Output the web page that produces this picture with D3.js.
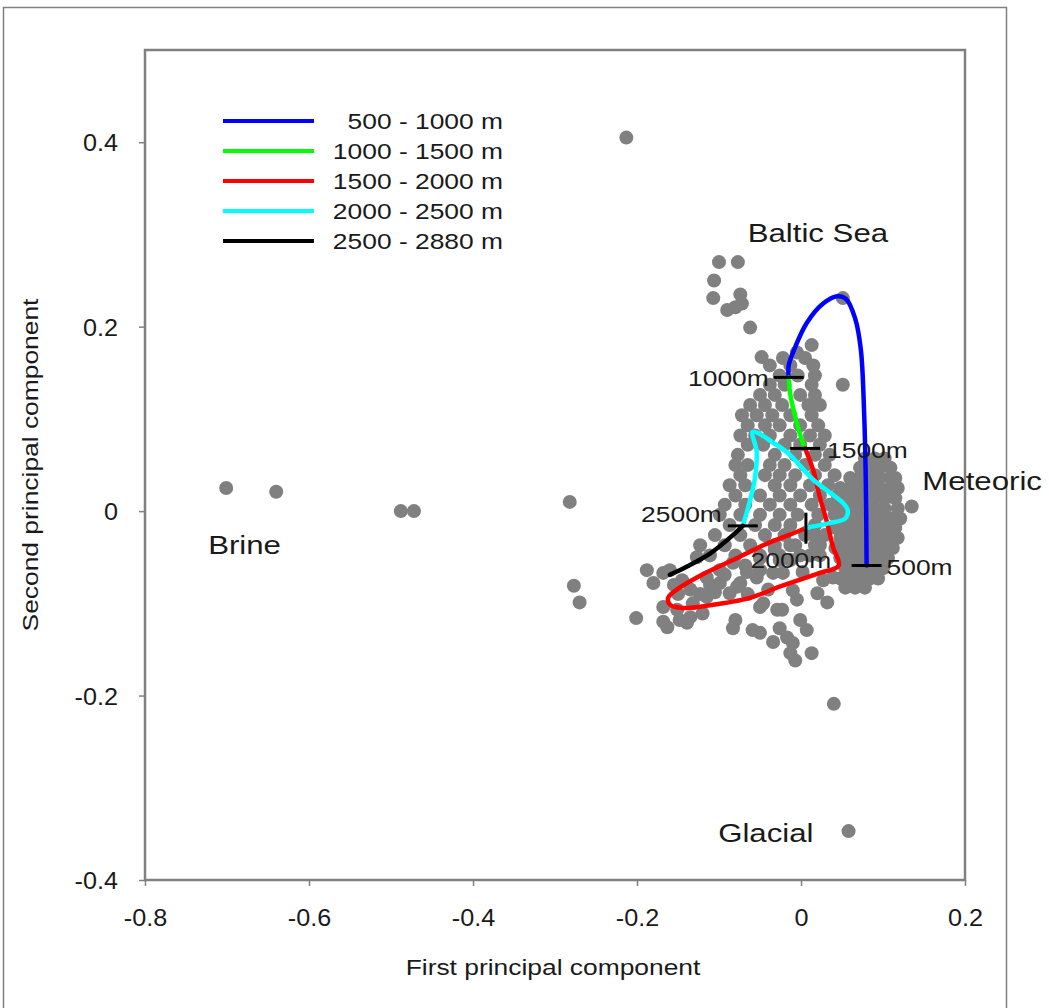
<!DOCTYPE html>
<html>
<head>
<meta charset="utf-8">
<script src="https://cdn.jsdelivr.net/npm/d3@7"></script>
<style>
  body { margin: 0; background: #fff; }
  svg { display: block; font-family: "Liberation Sans", Arial, sans-serif; }
  text { fill: #1a1a1a; }
</style>
</head>
<body>
<svg width="1049" height="1008"></svg>
<script>
// tick values and their labels
const xTicks = [-0.8, -0.6, -0.4, -0.2, 0, 0.2];
const xTickLabels = ["-0.8", "-0.6", "-0.4", "-0.2", "0", "0.2"];
const yTicks = [-0.4, -0.2, 0, 0.2, 0.4];
const yTickLabels = ["-0.4", "-0.2", "0", "0.2", "0.4"];

// water samples (first pc, second pc)
const samples = [
  // outliers
  [-0.213, 0.405], [-0.701, 0.025], [-0.640, 0.021], [-0.488, 0.000], [-0.472, 0.000],
  [-0.282, 0.010], [-0.277, -0.081], [-0.270, -0.099], [-0.201, -0.116], [0.040, -0.209],
  [0.058, -0.347], [0.135, 0.005],
  // upper group
  [-0.100, 0.270], [-0.077, 0.270], [-0.106, 0.250], [-0.107, 0.231], [-0.074, 0.235],
  [-0.072, 0.225], [-0.080, 0.221], [-0.090, 0.218], [-0.062, 0.199], [-0.048, 0.167],
  [0.051, 0.231],
  // main column
  [0.013, 0.180], [-0.005, 0.172], [-0.022, 0.166], [0.005, 0.166],
  [-0.038, 0.158], [-0.013, 0.158], [0.015, 0.158],
  [-0.026, 0.147], [-0.004, 0.147], [0.017, 0.147],
  [-0.038, 0.137], [-0.020, 0.137], [0.013, 0.137], [0.051, 0.137],
  [-0.050, 0.126], [-0.032, 0.126], [-0.001, 0.126], [0.017, 0.126],
  [-0.062, 0.115], [-0.044, 0.115], [-0.023, 0.115], [0.009, 0.115], [0.023, 0.115],
  [-0.072, 0.104], [-0.054, 0.104], [-0.035, 0.104], [-0.013, 0.104], [0.013, 0.104],
  [-0.065, 0.093], [-0.044, 0.093], [-0.026, 0.093], [-0.001, 0.093], [0.021, 0.093],
  [-0.074, 0.082], [-0.056, 0.082], [-0.038, 0.082], [-0.013, 0.082], [0.011, 0.082], [0.029, 0.082],
  [-0.065, 0.072], [-0.046, 0.072], [-0.020, 0.072], [-0.001, 0.072], [0.023, 0.072],
  [-0.077, 0.061], [-0.032, 0.061], [-0.007, 0.061], [0.017, 0.061], [0.035, 0.061],
  [-0.080, 0.050], [-0.065, 0.050], [-0.038, 0.050], [-0.020, 0.050], [0.005, 0.050], [0.029, 0.050],
  [-0.074, 0.039], [-0.044, 0.039], [-0.026, 0.039], [-0.007, 0.039], [0.017, 0.039], [0.041, 0.039],
  [-0.087, 0.028], [-0.068, 0.028], [-0.032, 0.028], [-0.013, 0.028], [0.011, 0.028], [0.033, 0.028],
  [-0.080, 0.017], [-0.050, 0.017], [-0.026, 0.017], [-0.001, 0.017], [0.023, 0.017], [0.045, 0.017],
  [-0.093, 0.007], [-0.068, 0.007], [-0.038, 0.007], [-0.013, 0.007], [0.013, 0.007], [0.035, 0.007],
  [-0.099, -0.004], [-0.074, -0.004], [-0.050, -0.004], [-0.026, -0.004], [-0.004, -0.004], [0.021, -0.004], [0.041, -0.004],
  [-0.087, -0.015], [-0.056, -0.015], [-0.032, -0.015], [-0.013, -0.015], [0.017, -0.015],
  [-0.105, -0.026], [-0.074, -0.026], [-0.044, -0.026], [-0.020, -0.026], [0.005, -0.026], [0.029, -0.026],
  [-0.123, -0.037], [-0.093, -0.037], [-0.062, -0.037], [-0.032, -0.037], [-0.007, -0.037], [0.017, -0.037],
  [-0.111, -0.048], [-0.080, -0.048], [-0.050, -0.048], [-0.026, -0.048], [-0.001, -0.048], [0.023, -0.048],
  // meteoric blob
  [0.078, 0.057], [0.090, 0.057], [0.102, 0.057],
  [0.072, 0.047], [0.084, 0.047], [0.096, 0.047], [0.109, 0.047],
  [0.060, 0.036], [0.072, 0.036], [0.084, 0.036], [0.096, 0.036], [0.109, 0.036], [0.115, 0.036],
  [0.048, 0.025], [0.060, 0.025], [0.072, 0.025], [0.084, 0.025], [0.096, 0.025], [0.109, 0.025], [0.118, 0.025],
  [0.045, 0.014], [0.054, 0.014], [0.066, 0.014], [0.078, 0.014], [0.090, 0.014], [0.102, 0.014], [0.115, 0.014],
  [0.042, 0.003], [0.054, 0.003], [0.066, 0.003], [0.078, 0.003], [0.090, 0.003], [0.102, 0.003], [0.118, 0.003],
  [0.045, -0.008], [0.060, -0.008], [0.072, -0.008], [0.084, -0.008], [0.096, -0.008], [0.109, -0.008], [0.121, -0.008],
  [0.042, -0.018], [0.054, -0.018], [0.066, -0.018], [0.078, -0.018], [0.090, -0.018], [0.102, -0.018], [0.115, -0.018],
  [0.048, -0.029], [0.060, -0.029], [0.072, -0.029], [0.084, -0.029], [0.096, -0.029], [0.109, -0.029], [0.118, -0.029],
  [0.042, -0.040], [0.054, -0.040], [0.066, -0.040], [0.078, -0.040], [0.090, -0.040], [0.102, -0.040], [0.112, -0.040],
  [0.048, -0.051], [0.060, -0.051], [0.072, -0.051], [0.084, -0.051], [0.096, -0.051], [0.106, -0.051],
  [0.054, -0.062], [0.066, -0.062], [0.078, -0.062], [0.090, -0.062], [0.100, -0.062],
  [0.048, -0.073], [0.060, -0.073], [0.072, -0.073], [0.084, -0.073], [0.094, -0.073],
  [0.054, -0.083], [0.066, -0.083], [0.078, -0.083],
  // lower band and tail
  [-0.188, -0.064], [-0.180, -0.078], [-0.168, -0.067], [-0.160, -0.064], [-0.168, -0.104],
  [-0.151, -0.107], [-0.163, -0.126], [-0.168, -0.120], [-0.148, -0.118], [-0.139, -0.121],
  [-0.135, -0.115], [-0.120, -0.111], [-0.132, -0.100], [-0.115, -0.093], [-0.127, -0.050],
  [-0.115, -0.072], [-0.099, -0.078], [-0.087, -0.089], [-0.074, -0.078], [-0.066, -0.066],
  [-0.099, -0.064], [-0.083, -0.056], [-0.111, -0.080], [-0.093, -0.069], [-0.068, -0.059],
  [-0.050, -0.051], [-0.032, -0.042], [-0.013, -0.037], [-0.026, -0.053], [-0.050, -0.064],
  [-0.013, -0.053], [0.011, -0.048], [0.023, -0.037], [0.017, -0.026], [-0.078, -0.082],
  [-0.054, -0.072], [-0.034, -0.067], [-0.022, -0.067], [0.002, -0.066], [0.027, -0.075],
  [0.039, -0.072], [-0.080, -0.118], [-0.083, -0.127], [-0.059, -0.129], [-0.050, -0.132],
  [-0.029, -0.107], [-0.026, -0.127], [-0.017, -0.137], [-0.010, -0.143], [-0.013, -0.154],
  [-0.007, -0.162], [0.007, -0.129], [0.013, -0.154], [-0.001, -0.118], [0.032, -0.099],
  [0.020, -0.089], [-0.010, -0.086], [-0.046, -0.100], [-0.050, -0.104], [-0.023, -0.107],
  [-0.005, -0.096], [-0.034, -0.142], [-0.135, -0.085], [-0.123, -0.090], [-0.105, -0.088],
  [-0.150, -0.090], [-0.155, -0.080], [-0.145, -0.075], [-0.065, -0.090], [-0.040, -0.085]
];

// depth trajectory, one array per depth band
const band500to1000 = [[0.080, -0.059], [0.079, 0.034], [0.077, 0.106], [0.073, 0.175], [0.066, 0.209],
  [0.055, 0.230], [0.044, 0.233], [0.027, 0.225], [0.007, 0.204], [-0.007, 0.178], [-0.015, 0.158], [-0.015, 0.145]];
const band1000to1500 = [[-0.015, 0.145], [-0.013, 0.126], [-0.006, 0.099], [0.001, 0.077], [0.005, 0.068]];
const band1500to2000 = [[0.005, 0.068], [0.015, 0.044], [0.023, 0.015], [0.032, -0.013], [0.039, -0.039],
  [0.046, -0.059], [0.023, -0.067], [-0.026, -0.082], [-0.062, -0.094], [-0.111, -0.102], [-0.144, -0.105],
  [-0.159, -0.102], [-0.162, -0.094], [-0.148, -0.083], [-0.123, -0.070], [-0.083, -0.053], [-0.041, -0.035],
  [-0.001, -0.021], [0.006, -0.018]];
const band2000to2500 = [[0.006, -0.018], [0.035, -0.013], [0.054, -0.008], [0.057, 0.001], [0.051, 0.009],
  [0.015, 0.034], [-0.016, 0.063], [-0.037, 0.076], [-0.051, 0.084], [-0.059, 0.086], [-0.054, 0.064],
  [-0.056, 0.037], [-0.062, 0.012], [-0.071, -0.016]];
const band2500to2880 = [[-0.071, -0.016], [-0.083, -0.026], [-0.111, -0.046], [-0.139, -0.060], [-0.160, -0.069]];

const bandLabels = ["500 - 1000 m", "1000 - 1500 m", "1500 - 2000 m", "2000 - 2500 m", "2500 - 2880 m"];
const bandColors = ["#0000ff", "#00ff00", "#ff0000", "#00ffff", "#000000"];
const bands = [band500to1000, band1000to1500, band1500to2000, band2000to2500, band2500to2880];

// depth marks along the trajectory
const markLabels = ["500m", "1000m", "1500m", "2000m", "2500m"];
const markX = [0.080, -0.015, 0.005, 0.006, -0.071];
const markY = [-0.059, 0.145, 0.068, -0.018, -0.016];

// end-member names
const endMembers = ["Baltic Sea", "Meteoric", "Brine", "Glacial"];
const endMemberX = [-0.065, 0.148, -0.723, -0.101];
const endMemberY = [0.292, 0.023, -0.046, -0.359];

const svg = d3.select("svg");
const stretch = 1.2; // the source font runs wide

const x = d3.scaleLinear().domain([-0.8, 0.2]).range([145, 965]);
const y = d3.scaleLinear().domain([-0.4, 0.5]).range([880, 50]);

const addText = (g, px, py, txt, size, anchor, rot) =>
  g.append("text")
    .attr("transform", `translate(${px},${py})` + (rot ? ` rotate(${rot})` : "") + ` scale(${stretch},1)`)
    .attr("text-anchor", anchor)
    .style("font-size", size + "px")
    .text(txt);

// outer frame
svg.append("rect")
  .attr("x", 3.5).attr("y", 7.5)
  .attr("width", 1003).attr("height", 1020)
  .attr("fill", "none").attr("stroke", "#808080").attr("stroke-width", 1.5);

// axes
const axisX = svg.append("g")
  .attr("transform", "translate(0,880)")
  .call(d3.axisBottom(x).tickValues(xTicks).tickSize(6).tickSizeOuter(0)
    .tickFormat((d, i) => xTickLabels[i]));
axisX.select(".domain").remove();
axisX.selectAll("line").attr("stroke", "#808080").attr("stroke-width", 1.5);
axisX.selectAll("text")
  .attr("y", null).attr("dy", null)
  .attr("transform", "translate(0,46) scale(1.05,1)")
  .style("font-size", "24px").attr("fill", "#1a1a1a");

const axisY = svg.append("g")
  .attr("transform", "translate(145,0)")
  .call(d3.axisLeft(y).tickValues(yTicks).tickSize(6).tickSizeOuter(0)
    .tickFormat((d, i) => yTickLabels[i]));
axisY.select(".domain").remove();
axisY.selectAll("line").attr("stroke", "#808080").attr("stroke-width", 1.5);
axisY.selectAll("text")
  .attr("x", null).attr("dy", "0.36em")
  .attr("transform", "translate(-27,0) scale(1.05,1)")
  .style("font-size", "24px").attr("fill", "#1a1a1a");

// plot area border
svg.append("rect")
  .attr("x", x(-0.8)).attr("y", y(0.5))
  .attr("width", x(0.2) - x(-0.8)).attr("height", y(-0.4) - y(0.5))
  .attr("fill", "none").attr("stroke", "#808080").attr("stroke-width", 2.5);

// axis titles
addText(svg, 553, 975, "First principal component", 22, "middle");
addText(svg, 38, 465, "Second principal component", 22, "middle", -90);

// points
svg.append("g")
  .selectAll("circle")
  .data(samples)
  .join("circle")
  .attr("cx", d => x(d[0]))
  .attr("cy", d => y(d[1]))
  .attr("r", 7)
  .attr("fill", "#808080");

// depth trajectory
const line = d3.line()
  .x(d => x(d[0]))
  .y(d => y(d[1]))
  .curve(d3.curveCatmullRom.alpha(0.5));

svg.append("g")
  .selectAll("path")
  .data(bands)
  .join("path")
  .attr("d", line)
  .attr("fill", "none")
  .attr("stroke", (d, i) => bandColors[i])
  .attr("stroke-width", 4.5)
  .attr("stroke-linejoin", "round")
  .attr("stroke-linecap", "round");

// depth marks: tick direction and label offsets
const markStyle = [
  { vertical: false, dx: 20, dy: 9, anchor: "start" },
  { vertical: false, dx: -20, dy: 9, anchor: "end" },
  { vertical: false, dx: 22, dy: 10, anchor: "start" },
  { vertical: true, dx: -15, dy: 40, anchor: "middle" },
  { vertical: false, dx: -21, dy: -4, anchor: "end" }
];

const marks = svg.append("g");
markLabels.forEach((m, i) => {
  const cx = x(markX[i]);
  const cy = y(markY[i]);
  const s = markStyle[i];
  marks.append("line")
    .attr("x1", s.vertical ? cx : cx - 15).attr("x2", s.vertical ? cx : cx + 15)
    .attr("y1", s.vertical ? cy - 15 : cy).attr("y2", s.vertical ? cy + 16 : cy)
    .attr("stroke", "#000").attr("stroke-width", 3);
  addText(marks, cx + s.dx, cy + s.dy, m, 22, s.anchor);
});

// end-member names
endMembers.forEach((t, i) => {
  addText(svg, x(endMemberX[i]), y(endMemberY[i]), t, 26, "start");
});

// legend
const legend = svg.append("g");
bandLabels.forEach((t, i) => {
  const ly = 121 + i * 30;
  legend.append("line")
    .attr("x1", 223).attr("x2", 314)
    .attr("y1", ly).attr("y2", ly)
    .attr("stroke", bandColors[i]).attr("stroke-width", 4);
  addText(legend, 503, ly + 8, t, 22, "end");
});
</script>
</body>
</html>
